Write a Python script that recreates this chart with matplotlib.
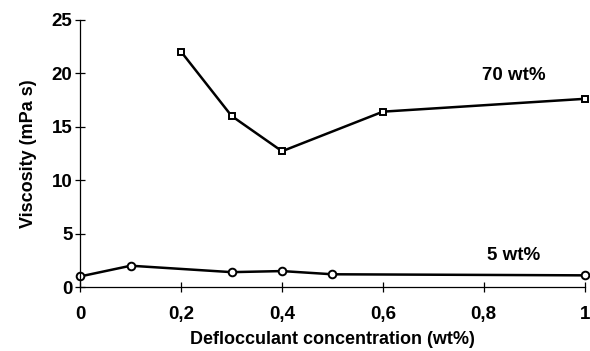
import matplotlib
matplotlib.use('Agg')
import matplotlib.pyplot as plt

plt.rcParams['font.family'] = ['Liberation Sans', 'DejaVu Sans']
plt.rcParams['font.weight'] = 'bold'

# 70 wt% suspension
x_70 = [0.2, 0.3, 0.4, 0.6, 1.0]
visc_70 = [22.0, 16.0, 12.7, 16.4, 17.6]

# 5 wt% suspension
x_5 = [0.0, 0.1, 0.3, 0.4, 0.5, 1.0]
visc_5 = [1.0, 2.0, 1.4, 1.5, 1.2, 1.1]

x_ticks = [0, 0.2, 0.4, 0.6, 0.8, 1]
x_labels = ['0', '0,2', '0,4', '0,6', '0,8', '1']
y_ticks = [0, 5, 10, 15, 20, 25]

fig = plt.figure(figsize=(5.9, 3.51), dpi=100)
ax = fig.add_axes([0.136, 0.182, 0.855, 0.762])

ax.plot(x_70, visc_70, color='black', lw=1.8, marker='s', markersize=5,
        markerfacecolor='white', markeredgewidth=1.4, clip_on=False)
ax.plot(x_5, visc_5, color='black', lw=1.8, marker='o', markersize=5.5,
        markerfacecolor='white', markeredgewidth=1.4, clip_on=False)

ax.text(0.86, 19.8, '70 wt%', fontsize=13.5, fontweight='bold', ha='center', va='center')
ax.text(0.86, 3.0, '5 wt%', fontsize=13.5, fontweight='bold', ha='center', va='center')

ax.set_xlim(0, 1)
ax.set_ylim(0, 25)
ax.set_xticks(x_ticks)
ax.set_xticklabels(x_labels)
ax.set_yticks(y_ticks)
for s in ['top', 'right']:
    ax.spines[s].set_visible(False)
for s in ['left', 'bottom']:
    ax.spines[s].set_linewidth(0.9)
ax.tick_params(direction='inout', length=7, width=0.9, labelsize=13.5)
ax.tick_params(axis='x', pad=10)
ax.tick_params(axis='y', pad=2)

ax.set_xlabel('Deflocculant concentration (wt%)', fontsize=13, fontweight='bold', labelpad=6)
ax.set_ylabel('Viscosity (mPa s)', fontsize=13, fontweight='bold', labelpad=11)

plt.savefig('out.png', dpi=100)
